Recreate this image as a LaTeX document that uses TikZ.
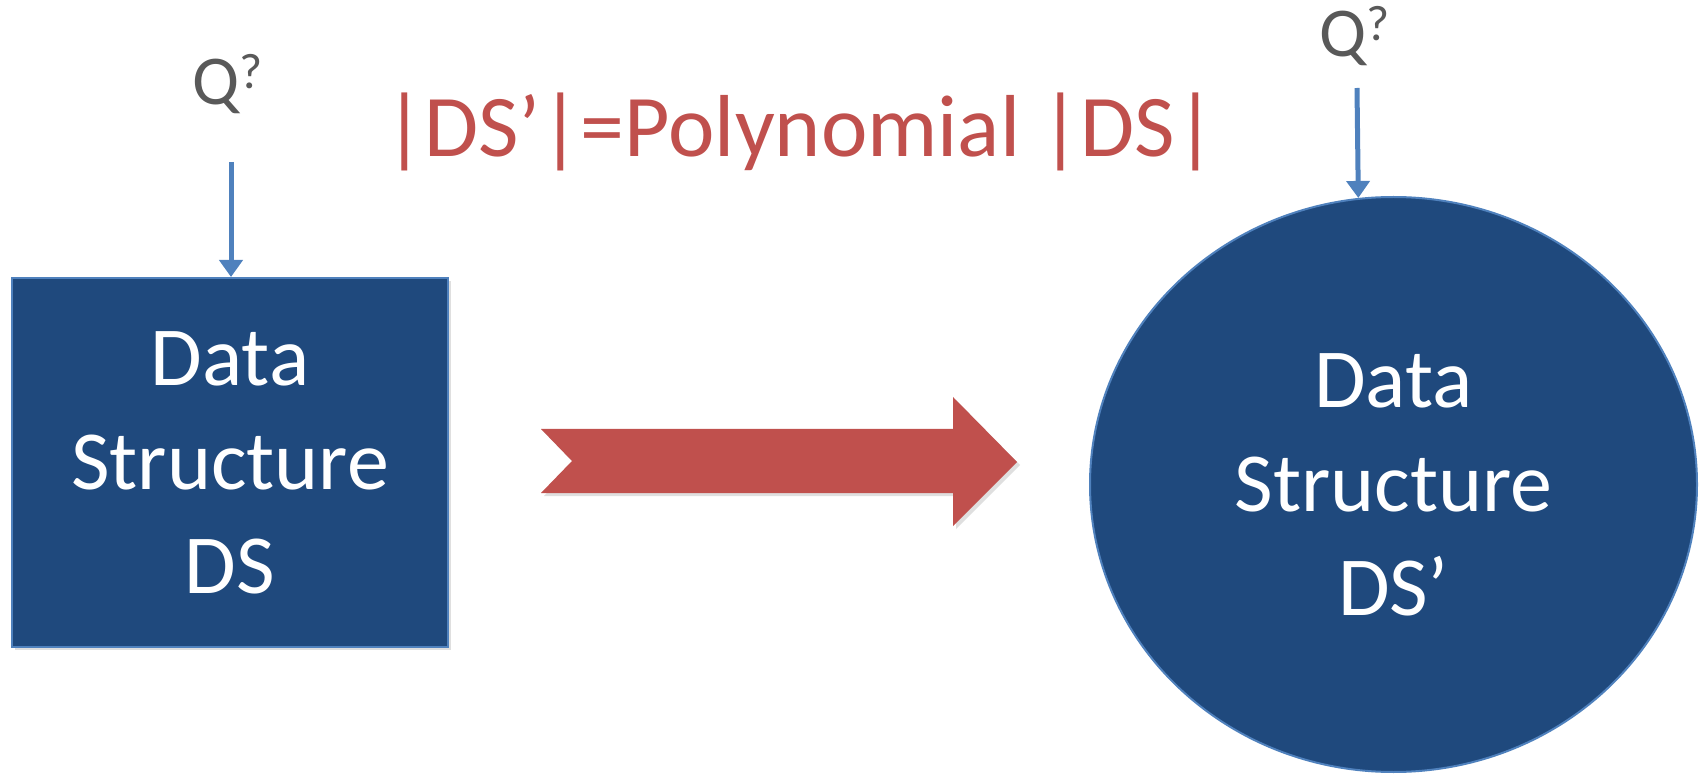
\documentclass[tikz,border=0pt]{standalone}
\usepackage{fontspec}
\setmainfont{Carlito}
\usetikzlibrary{arrows.meta,shapes.geometric,shadows}
\definecolor{boxblue}{HTML}{1F497D}
\definecolor{edgeblue}{HTML}{4F81BD}
\definecolor{arrred}{HTML}{C0504D}
\definecolor{qgrey}{HTML}{595959}
\tikzset{
  dsbox/.style={rectangle, fill=boxblue, draw=edgeblue, line width=1pt,
    minimum width=218pt, minimum height=184.5pt, inner sep=0pt,
    align=center, text=white, font=\fontsize{42}{52}\selectfont,
    drop shadow={opacity=0.25, shadow xshift=1.5pt, shadow yshift=-1.5pt}},
  dscirc/.style={ellipse, fill=boxblue, draw=edgeblue, line width=1pt,
    minimum width=303.5pt, minimum height=287.5pt, inner sep=0pt,
    align=center, text=white, font=\fontsize{42}{52}\selectfont},
  qlabel/.style={inner sep=0pt, text=qgrey, font=\fontsize{35}{38}\selectfont},
  qarrow/.style={draw=edgeblue, line width=2.5pt,
    -{Triangle[width=11.5pt,length=8.5pt]}},
  bigarrow/.style={fill=arrred,
    drop shadow={opacity=0.25, shadow xshift=1.5pt, shadow yshift=-1.5pt}},
  title/.style={inner sep=0pt, text=arrred, font=\fontsize{44}{46}\selectfont}
}
\newcommand{\qsup}{Q\raisebox{8pt}{\fontsize{25}{25}\selectfont ?}}
\begin{document}
\begin{tikzpicture}[x=0.5pt, y=-0.5pt]
\useasboundingbox (0,0) rectangle (1699,775);
% title
\node[title, anchor=base] (ttl) at (800,157) {|DS’|=Polynomial |DS|};
% left structure
\node[dsbox] (box) at (230,462.5) {Data\\Structure\\DS};
\node[qlabel, anchor=base west] (q1) at (192,105) {\qsup};
\coordinate (a1s) at (231,162);
\draw[qarrow] (a1s) -- (a1s |- box.north);
% big arrow
\fill[bigarrow] (541,429) -- (953,429) -- (953,397) -- (1017,462) -- (953,526)
  -- (953,493) -- (541,493) -- (572,461) -- cycle;
% right structure
\node[dscirc] (circ) at (1393.5,484.5) {Data\\Structure\\DS’};
\node[qlabel, anchor=base west] (q2) at (1319,57) {\qsup};
\coordinate (a2s) at (1357,88);
\draw[qarrow] (a2s) -- (circ.97);
\end{tikzpicture}
\end{document}
